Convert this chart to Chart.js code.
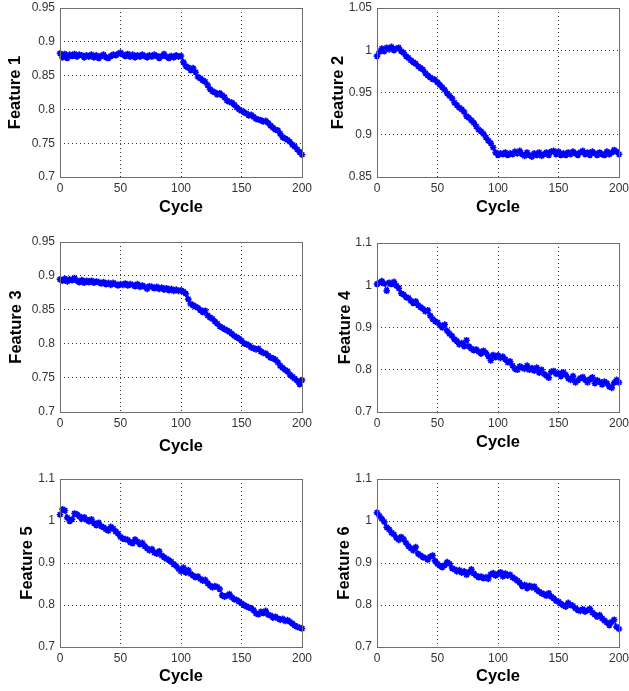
<!DOCTYPE html>
<html>
<head>
<meta charset="utf-8">
<script src="https://cdn.jsdelivr.net/npm/chart.js@4.4.0/dist/chart.umd.min.js"></script>
<style>
  html, body { margin: 0; padding: 0; background: #fff; }
  #fig { position: relative; width: 629px; height: 691px; overflow: hidden; }
  .panel { position: absolute; width: 322px; }
</style>
</head>
<body>
<div id="fig"></div>
<script>
// cycle numbers (every second cycle)
const cycles = [];
for (let c = 0; c <= 200; c += 2) cycles.push(c);

const feature1 = [
  0.883, 0.877, 0.882, 0.876, 0.881, 0.879, 0.882, 0.878, 0.881, 0.880,
  0.877, 0.880, 0.878, 0.881, 0.877, 0.880, 0.876, 0.879, 0.881, 0.877,
  0.876, 0.879, 0.881, 0.880, 0.882, 0.884, 0.881, 0.879, 0.882, 0.878,
  0.881, 0.877, 0.880, 0.878, 0.881, 0.879, 0.877, 0.880, 0.878, 0.881,
  0.879, 0.876, 0.879, 0.882, 0.878, 0.876, 0.879, 0.877, 0.880, 0.878,
  0.879, 0.870, 0.864, 0.862, 0.858, 0.861, 0.855, 0.848, 0.846, 0.843,
  0.841, 0.836, 0.830, 0.827, 0.825, 0.822, 0.824, 0.821, 0.818, 0.813,
  0.811, 0.810, 0.807, 0.803, 0.800, 0.798, 0.796, 0.794, 0.791, 0.792,
  0.789, 0.786, 0.785, 0.784, 0.782, 0.783, 0.780, 0.776, 0.773, 0.770,
  0.769, 0.764, 0.759, 0.757, 0.755, 0.752, 0.748, 0.745, 0.741, 0.737,
  0.733
];
const feature2 = [
  0.993, 0.998, 1.002, 0.999, 1.003, 1.001, 1.004, 1.000, 1.002, 1.003,
  0.999, 0.997, 0.993, 0.991, 0.988, 0.986, 0.984, 0.981, 0.979, 0.977,
  0.973, 0.970, 0.968, 0.966, 0.965, 0.962, 0.959, 0.956, 0.953, 0.949,
  0.946, 0.943, 0.938, 0.935, 0.932, 0.930, 0.927, 0.922, 0.920, 0.917,
  0.914, 0.910, 0.906, 0.904, 0.901, 0.897, 0.893, 0.890, 0.885, 0.879,
  0.876, 0.878, 0.877, 0.879, 0.876, 0.878, 0.877, 0.880, 0.878, 0.881,
  0.877, 0.875, 0.879, 0.876, 0.874, 0.878, 0.876, 0.879, 0.875, 0.877,
  0.879, 0.876, 0.880, 0.881, 0.877, 0.880, 0.876, 0.878, 0.876, 0.879,
  0.877, 0.880, 0.878, 0.876, 0.879, 0.881, 0.877, 0.879, 0.876, 0.880,
  0.878, 0.876, 0.879, 0.877, 0.876, 0.880, 0.877, 0.879, 0.882, 0.880,
  0.877
];
const feature3 = [
  0.895, 0.893, 0.896, 0.892, 0.895, 0.894, 0.897, 0.893, 0.891, 0.894,
  0.890, 0.893, 0.891, 0.893, 0.890, 0.892, 0.891, 0.889, 0.891, 0.888,
  0.890, 0.887, 0.890, 0.888, 0.886, 0.888, 0.887, 0.889, 0.886, 0.888,
  0.887, 0.885, 0.888, 0.884, 0.886, 0.884, 0.881, 0.885, 0.884, 0.882,
  0.884, 0.881, 0.883, 0.880, 0.882, 0.879, 0.881, 0.878, 0.880, 0.878,
  0.879, 0.877, 0.874, 0.866, 0.859, 0.857, 0.855, 0.853, 0.850, 0.847,
  0.849, 0.842, 0.839, 0.837, 0.833, 0.830, 0.826, 0.824, 0.822, 0.820,
  0.818, 0.815, 0.812, 0.810, 0.808, 0.805, 0.801, 0.800, 0.798, 0.795,
  0.794, 0.792, 0.793, 0.789, 0.787, 0.786, 0.783, 0.780, 0.779, 0.777,
  0.773, 0.768, 0.765, 0.762, 0.760, 0.755, 0.752, 0.749, 0.746, 0.741,
  0.747
];
const feature4 = [
  1.003, 1.006, 1.010, 1.004, 0.987, 1.006, 1.003, 1.008, 0.999, 0.993,
  0.981, 0.978, 0.972, 0.970, 0.963, 0.958, 0.962, 0.953, 0.948, 0.944,
  0.938, 0.941, 0.928, 0.920, 0.915, 0.912, 0.905, 0.900, 0.907, 0.892,
  0.885, 0.880, 0.872, 0.868, 0.860, 0.863, 0.856, 0.870, 0.855, 0.850,
  0.846, 0.848, 0.843, 0.838, 0.845, 0.840, 0.832, 0.822, 0.835, 0.830,
  0.834, 0.828, 0.831, 0.825, 0.818, 0.820, 0.810, 0.802, 0.800, 0.808,
  0.805, 0.802, 0.810, 0.800, 0.804, 0.798, 0.805, 0.793, 0.800, 0.790,
  0.786, 0.781, 0.795, 0.797, 0.790, 0.792, 0.785, 0.794, 0.788, 0.780,
  0.776, 0.785, 0.770, 0.775, 0.780, 0.783, 0.776, 0.770, 0.778, 0.782,
  0.768, 0.775, 0.771, 0.765, 0.772, 0.768, 0.760, 0.757, 0.769, 0.776,
  0.770
];
const feature5 = [
  1.015, 1.028, 1.025, 1.008, 1.000, 1.004, 1.018, 1.016, 1.011, 1.005,
  1.009, 1.003, 0.999, 1.004, 0.995, 0.990, 0.996, 0.988, 0.985, 0.980,
  0.977, 0.986, 0.982, 0.975, 0.970, 0.962, 0.958, 0.957, 0.955, 0.950,
  0.947, 0.956, 0.951, 0.945, 0.948, 0.940, 0.935, 0.930, 0.933, 0.925,
  0.922, 0.928, 0.918, 0.914, 0.910, 0.907, 0.903, 0.897, 0.893, 0.886,
  0.880, 0.889, 0.877, 0.883, 0.874, 0.870, 0.866, 0.868, 0.862, 0.858,
  0.860, 0.852, 0.846, 0.842, 0.845, 0.843, 0.838, 0.823, 0.820, 0.822,
  0.826, 0.818, 0.814, 0.812, 0.808, 0.804, 0.800, 0.797, 0.794, 0.792,
  0.788, 0.780, 0.778, 0.784, 0.781, 0.786, 0.777, 0.775, 0.770, 0.772,
  0.768, 0.765, 0.767, 0.762, 0.764, 0.760, 0.756, 0.751, 0.748, 0.746,
  0.744
];
const feature6 = [
  1.020, 1.012, 1.005, 0.998, 0.985, 0.980, 0.972, 0.968, 0.960, 0.955,
  0.962, 0.957, 0.948, 0.940, 0.935, 0.930, 0.938, 0.922, 0.918, 0.914,
  0.912, 0.908, 0.915, 0.918, 0.905, 0.898, 0.893, 0.890, 0.895, 0.902,
  0.898, 0.888, 0.885, 0.880, 0.883, 0.877, 0.880, 0.872, 0.878, 0.885,
  0.875, 0.870, 0.866, 0.868, 0.864, 0.866, 0.862, 0.873, 0.876, 0.870,
  0.874, 0.878, 0.868, 0.875, 0.870, 0.872, 0.866, 0.862, 0.858, 0.853,
  0.845, 0.848, 0.840, 0.846, 0.842, 0.844, 0.836, 0.832, 0.828, 0.826,
  0.822, 0.828, 0.820, 0.816, 0.810, 0.808, 0.803, 0.799, 0.796, 0.805,
  0.800, 0.798, 0.792, 0.788, 0.786, 0.790, 0.784, 0.788, 0.791, 0.782,
  0.777, 0.772, 0.776, 0.768, 0.763, 0.758, 0.752, 0.760, 0.765, 0.748,
  0.743
];

// y axis ranges [min, max, step]
const yRange1 = [0.7, 0.95, 0.05];
const yRange2 = [0.85, 1.05, 0.05];
const yRange3 = [0.7, 0.95, 0.05];
const yRange4 = [0.7, 1.1, 0.1];
const yRange5 = [0.7, 1.1, 0.1];
const yRange6 = [0.7, 1.1, 0.1];
const xTitle = 'Cycle';

const FONT = "'Liberation Sans', Arial, sans-serif";
const BLUE = '#0000ff';

// draw the matlab-ish box round the plot area
const boxPlugin = {
  id: 'box',
  afterDatasetsDraw(chart) {
    const a = chart.chartArea;
    const ctx = chart.ctx;
    ctx.save();
    ctx.strokeStyle = '#6e6e6e';
    ctx.lineWidth = 1;
    ctx.strokeRect(Math.round(a.left) + 0.5, Math.round(a.top) + 0.5,
      Math.round(a.right - a.left), Math.round(a.bottom - a.top));
    ctx.restore();
  }
};

const panels = [
  { label: 'Feature 1', values: feature1, range: yRange1, left: 0,   top: 0,   height: 220, xh: 43, xpad: 3,   ypad: 5.5 },
  { label: 'Feature 2', values: feature2, range: yRange2, left: 317, top: 0,   height: 220, xh: 43, xpad: 3,   ypad: 12 },
  { label: 'Feature 3', values: feature3, range: yRange3, left: 0,   top: 234, height: 225, xh: 47, xpad: 3,   ypad: 7 },
  { label: 'Feature 4', values: feature4, range: yRange4, left: 317, top: 235, height: 225, xh: 48, xpad: 7.8, ypad: 18.5 },
  { label: 'Feature 5', values: feature5, range: yRange5, left: 0,   top: 471, height: 220, xh: 44, xpad: 5,   ypad: 17.3 },
  { label: 'Feature 6', values: feature6, range: yRange6, left: 317, top: 471, height: 220, xh: 44, xpad: 5,   ypad: 17.8 }
];

const fig = document.getElementById('fig');

panels.forEach((p, i) => {
  const box = document.createElement('div');
  box.className = 'panel';
  box.style.left = p.left + 'px';
  box.style.top = p.top + 'px';
  box.style.height = p.height + 'px';
  const canvas = document.createElement('canvas');
  canvas.id = 'chart' + (i + 1);
  box.appendChild(canvas);
  fig.appendChild(box);

  const points = cycles.map((c, k) => ({ x: c, y: p.values[k] }));
  const [yMin, yMax, yStep] = p.range;

  new Chart(canvas, {
    type: 'scatter',
    data: {
      datasets: [{
        data: points,
        showLine: true,
        borderColor: BLUE,
        borderWidth: 1.2,
        pointStyle: 'star',
        pointRadius: 3.3,
        pointBorderWidth: 1.6,
        pointBorderColor: BLUE,
        pointBackgroundColor: BLUE,
        clip: false
      }]
    },
    options: {
      responsive: true,
      maintainAspectRatio: false,
      animation: false,
      events: [],
      layout: { padding: { top: 8, right: 20, left: 0, bottom: 0 } },
      plugins: { legend: { display: false }, tooltip: { enabled: false } },
      scales: {
        x: {
          type: 'linear',
          min: 0,
          max: 200,
          afterFit: (s) => { s.height = p.xh; s.paddingLeft = 0; s.paddingRight = 0; },
          ticks: {
            stepSize: 50,
            padding: 4,
            color: '#333',
            font: { family: FONT, size: 12 }
          },
          grid: { color: '#333', lineWidth: 1, drawTicks: false },
          border: { display: false, dash: [1, 3] },
          title: {
            display: true,
            text: xTitle,
            color: '#000',
            font: { family: FONT, size: 16.5, weight: 'bold' },
            padding: { top: 0, bottom: p.xpad }
          }
        },
        y: {
          min: yMin,
          max: yMax,
          afterFit: (s) => { s.width = 60; s.paddingTop = 0; s.paddingBottom = 0; },
          ticks: {
            stepSize: yStep,
            padding: 5,
            color: '#333',
            font: { family: FONT, size: 12 },
            callback: (v) => String(parseFloat(Number(v).toFixed(2)))
          },
          grid: { color: '#333', lineWidth: 1, drawTicks: false },
          border: { display: false, dash: [1, 3] },
          title: {
            display: true,
            text: p.label,
            color: '#000',
            font: { family: FONT, size: 16.5, weight: 'bold' },
            padding: { top: p.ypad, bottom: 0 }
          }
        }
      }
    },
    plugins: [boxPlugin]
  });
});
</script>
</body>
</html>
